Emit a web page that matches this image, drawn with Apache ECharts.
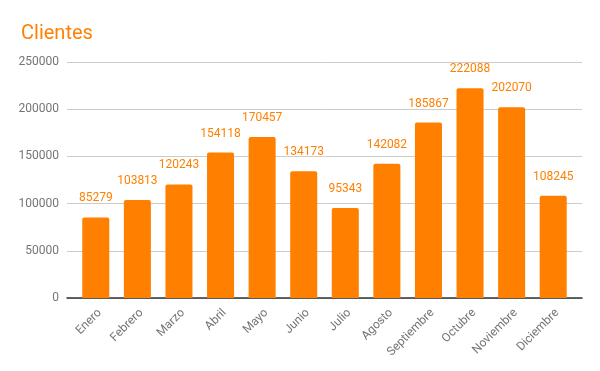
<!DOCTYPE html>
<html><head><meta charset="utf-8">
<script src="https://cdn.jsdelivr.net/npm/echarts@6/dist/echarts.min.js"></script>
<style>html,body{margin:0;padding:0;background:#fff}#c{width:600px;height:371px}</style>
</head><body><div id="c"></div>
<script>
const categories = ['Enero','Febrero','Marzo','Abril','Mayo','Junio','Julio','Agosto','Septiembre','Octubre','Noviembre','Diciembre'];
const clientes = [85279,103813,120243,154118,170457,134173,95343,142082,185867,222088,202070,108245];
const yTicks = [0,50000,100000,150000,200000,250000];

const yMin = yTicks[0], yMax = yTicks[yTicks.length-1];
const chart = echarts.init(document.getElementById('c'), null, {renderer:'canvas'});
chart.setOption({
  animation:false,
  title:{text:'Clientes',left:16,top:19,textStyle:{fontFamily:'Roboto',fontSize:20,fontWeight:'normal',color:'#ff8000'}},
  grid:[
    {left:67,right:18,top:62,bottom:73,containLabel:false},
    {left:75,right:26,top:62,bottom:73,containLabel:false},
    {left:79,right:22,top:62,bottom:73,containLabel:false}
  ],
  xAxis:[
    {gridIndex:0,type:'category',data:categories,
      axisLine:{lineStyle:{color:'#333',width:1.5}},axisTick:{show:false},axisLabel:{show:false},splitLine:{show:false}},
    {gridIndex:1,type:'category',data:categories,
      axisLine:{show:false},axisTick:{show:false},axisLabel:{show:false}},
    {gridIndex:2,type:'category',data:categories,
      axisLine:{show:false},axisTick:{show:false},splitLine:{show:false},
      axisLabel:{rotate:45,interval:0,fontFamily:'Roboto',fontSize:12,color:'#757575',margin:13}}
  ],
  yAxis:[
    {gridIndex:0,type:'value',min:yMin,max:yMax,interval:50000,
      axisLine:{show:false},axisTick:{show:false},
      splitLine:{lineStyle:{color:'#cccccc'}},
      axisLabel:{fontFamily:'Roboto',fontSize:12,color:'#757575',margin:8,formatter:v=>String(v)}},
    {gridIndex:1,type:'value',min:yMin,max:yMax,interval:50000,show:false,splitLine:{show:false}},
    {gridIndex:2,type:'value',min:yMin,max:yMax,interval:50000,show:false,splitLine:{show:false}}
  ],
  series:[{type:'bar',xAxisIndex:1,yAxisIndex:1,data:clientes,barWidth:'65%',
    itemStyle:{color:'#ff8000',borderRadius:[2,2,0,0]},
    label:{show:true,position:'top',distance:13,fontFamily:'Roboto',fontSize:12,color:'#ff8000'}}]
});
</script></body></html>
